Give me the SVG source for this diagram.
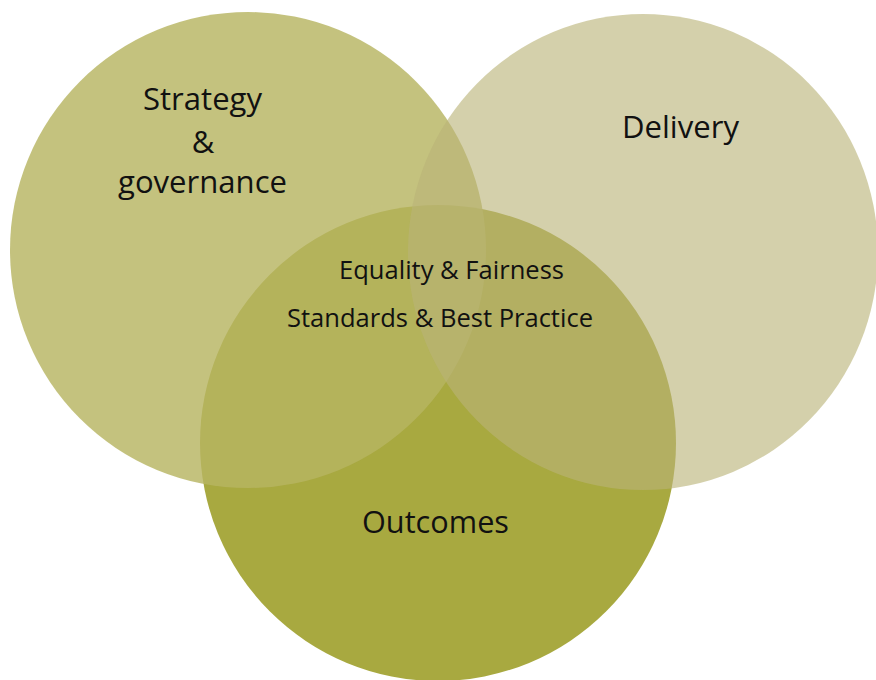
<svg xmlns="http://www.w3.org/2000/svg" width="876" height="680" viewBox="0 0 876 680">
<style>
.lbl{font-family:"Open Sans","Noto Sans","Liberation Sans",sans-serif;fill:#111;text-anchor:middle}
.big{font-size:31px}
.mid{font-size:26px}
</style>
<rect width="876" height="680" fill="#fff"/>
<g id="outcomes">
<circle cx="438" cy="443" r="238" fill="#A8A940"/>
<text class="lbl big" x="435.5" y="533" textLength="147" lengthAdjust="spacingAndGlyphs">Outcomes</text>
</g>
<g id="strategy">
<circle cx="248" cy="250" r="238" fill="rgb(183,180,98)" fill-opacity="0.82"/>
<text class="lbl big" x="202.5" y="110" textLength="119" lengthAdjust="spacingAndGlyphs">Strategy</text>
<text class="lbl big" x="203" y="153">&amp;</text>
<text class="lbl big" x="202.5" y="193" textLength="169" lengthAdjust="spacingAndGlyphs">governance</text>
</g>
<g id="delivery">
<ellipse cx="643" cy="252" rx="235" ry="238" fill="rgb(186,179,120)" fill-opacity="0.62"/>
<text class="lbl big" x="680.5" y="138" textLength="117" lengthAdjust="spacingAndGlyphs">Delivery</text>
</g>
<g id="centre">
<text class="lbl mid" x="451.5" y="279" textLength="225" lengthAdjust="spacingAndGlyphs">Equality &amp; Fairness</text>
<text class="lbl mid" x="440" y="327" textLength="306" lengthAdjust="spacingAndGlyphs">Standards &amp; Best Practice</text>
</g>
</svg>
